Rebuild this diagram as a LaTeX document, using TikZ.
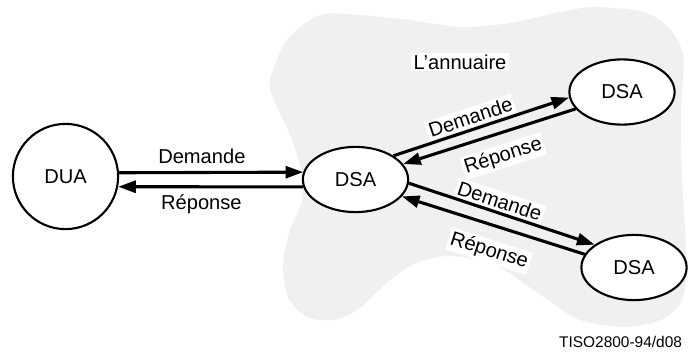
\documentclass[tikz,border=0pt]{standalone}
\usepackage{fontspec}
\setmainfont{Liberation Sans}
\usetikzlibrary{arrows.meta,shapes.geometric}
\definecolor{cloudgray}{gray}{0.94}

\begin{document}
\begin{tikzpicture}
[x=0.025cm,y=-0.025cm,%
  nodedecorate/.style={shape=ellipse,inner sep=0pt,draw,line width=1.5pt,fill=white,%
    minimum width=2.63cm,minimum height=1.63cm,font=\fontsize{14.3}{17}\selectfont},%
  circledecorate/.style={nodedecorate,shape=circle,minimum size=2.63cm},%
  linedecorate/.style={-{Triangle[length=12.5pt,width=8.5pt]},line width=2.2pt},%
  labeldecorate/.style={fill=white,inner sep=1.5pt,font=\fontsize{14.3}{17}\selectfont}]
\useasboundingbox (0,0) rectangle (688,356);
%% the directory cloud
\fill[cloudgray] plot[smooth cycle] coordinates {(270,80) (287,40) (320,15)
  (360,15) (410,20) (460,27) (510,23) (560,12) (595,7) (643,12) (668,27)
  (683,55) (681,110) (682,180) (686,250) (684,295) (665,318) (627,327)
  (580,320) (545,298) (495,265) (450,256) (417,263) (390,280) (357,310)
  (333,320) (307,317) (288,297) (283,263) (290,230) (302,200) (300,165)
  (288,130) (274,100)};
%% nodes or vertices
\node (dua) at (65.5,176.5) [circledecorate] {DUA};
\foreach \nodename/\x/\y in {dsa/355.5/179.5, dsahaut/622/92, dsabas/634/267.5} {
  \node (\nodename) at (\x,\y) [nodedecorate] {DSA};
}
\node (annuaire) at (460,62) [labeldecorate] {L'annuaire};
\node (ref) at (687,342) [anchor=east,font=\fontsize{11}{13}\selectfont] {TISO2800-94/d08};
%% edges or lines
\path
  (dua.4) edge[linedecorate] node[labeldecorate,pos=0.45,above=4pt] {Demande} (dsa.172)
  (dsa.188) edge[linedecorate] node[labeldecorate,pos=0.55,below=3pt] {Réponse} (dua.-11)
  (dsa.32) edge[linedecorate] node[labeldecorate,sloped,pos=0.46,above=1pt] {Demande} (dsahaut.186)
  (dsahaut.200) edge[linedecorate] node[labeldecorate,sloped,pos=0.46,below=7pt] {Réponse} (dsa.18)
  (dsa.-4) edge[linedecorate] node[labeldecorate,sloped,pos=0.47,above=0.5pt] {Demande} (dsabas.150)
  (dsabas.165) edge[linedecorate] node[labeldecorate,sloped,pos=0.48,below=9pt] {Réponse} (dsa.-20);
\end{tikzpicture}
\end{document}
